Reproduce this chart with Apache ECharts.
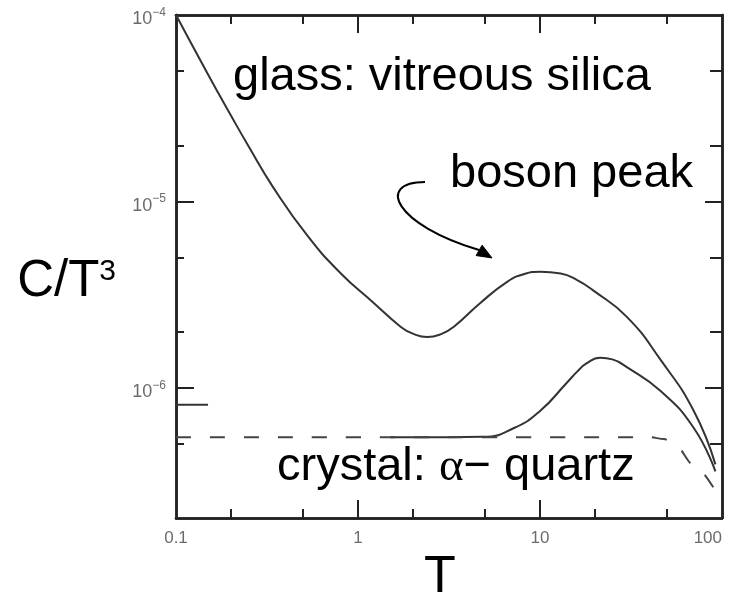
<!DOCTYPE html>
<html><head><meta charset="utf-8">
<script src="https://cdn.jsdelivr.net/npm/echarts@6/dist/echarts.min.js"></script>
<style>html,body{margin:0;padding:0;background:#fff}#c{width:730px;height:592px}</style>
</head><body><div id="c"></div>
<script>
// ---- data ----
const glassT = [0.1, 0.15, 0.2, 0.25, 0.34, 0.53, 0.8, 1.22, 1.72, 2.0, 2.4, 2.9, 3.35, 4.7, 6.6, 8.2, 10, 13, 16, 19.5, 30, 46, 70, 92];
const glassC = [1e-4, 4.8e-5, 2.9e-5, 1.98e-5, 1.2e-5, 6.5e-6, 4.13e-6, 2.85e-6, 2.12e-6, 1.95e-6, 1.87e-6, 1.95e-6, 2.12e-6, 2.85e-6, 3.7e-6, 4.08e-6, 4.19e-6, 4.1e-6, 3.78e-6, 3.34e-6, 2.40e-6, 1.41e-6, 7.5e-7, 3.88e-7];
const crystT = [1.5, 3, 4.9, 7.2, 10, 14, 16, 18, 21.4, 25, 30, 46, 70, 92];
const crystC = [5.43e-7, 5.43e-7, 5.45e-7, 6.08e-7, 7.5e-7, 1.06e-6, 1.22e-6, 1.35e-6, 1.45e-6, 1.42e-6, 1.29e-6, 9.6e-7, 6.08e-7, 3.56e-7];
const debyeT = [0.1, 40, 48, 55, 70, 92];
const debyeC = [5.43e-7, 5.43e-7, 5.3e-7, 4.98e-7, 3.84e-7, 2.8e-7];
const markT = [0.1, 0.15];
const markC = [8.1e-7, 8.1e-7];
const xMajorTicks = [1, 10];
const xMinorTicks = [0.2, 0.5, 2, 5, 20, 50];
const yMajorTicks = [1e-5, 1e-6];
const yMinorTicks = [5e-5, 2e-5, 5e-6, 2e-6, 5e-7];
const arrowTip = [5.45, 4.97e-6];
const xMin = 0.1, xMax = 100, yMin = 2e-7, yMax = 1e-4;

const toPairs = (a, b) => a.map((v, i) => [v, b[i]]);
const AX = '#222';
const LBL = '#6b6b6b';

function xAx(pos, ticks, len, withLabels, extra) {
  return Object.assign({
    type: 'log', logBase: 10, min: xMin, max: xMax, position: pos,
    axisLine: { show: true, onZero: false, lineStyle: { color: AX, width: 2.5 } },
    axisTick: { show: true, inside: true, length: len, customValues: ticks, lineStyle: { color: AX, width: 2 } },
    axisLabel: withLabels ? {
      show: true, margin: 12, color: LBL, fontSize: 17, fontFamily: 'Liberation Sans',
      alignMaxLabel: 'right',
      formatter: v => v >= 1 ? String(Math.round(v)) : String(v)
    } : { show: false },
    splitLine: { show: false }, minorTick: { show: false }, minorSplitLine: { show: false }
  }, extra || {});
}
function yAx(pos, ticks, len, withLabels) {
  return {
    type: 'log', logBase: 10, min: yMin, max: yMax, position: pos,
    axisLine: { show: true, onZero: false, lineStyle: { color: AX, width: 2.5 } },
    axisTick: { show: true, inside: true, length: len, customValues: ticks, lineStyle: { color: AX, width: 2 } },
    axisLabel: withLabels ? {
      show: true, margin: 10, showMinLabel: false, showMaxLabel: true,
      color: LBL, fontFamily: 'Liberation Sans', padding: [9, 0, 0, 0],
      formatter: v => { const e = Math.round(Math.log10(v)); return '{b|10}{s|\u2212' + Math.abs(e) + '}'; },
      rich: { b: { fontSize: 18, lineHeight: 26, color: LBL }, s: { fontSize: 12, lineHeight: 12, verticalAlign: 'top', color: LBL } }
    } : { show: false },
    splitLine: { show: false }, minorTick: { show: false }, minorSplitLine: { show: false }
  };
}

const chart = echarts.init(document.getElementById('c'), null, { renderer: 'canvas' });
const lineBase = { type: 'line', showSymbol: false, symbol: 'none', xAxisIndex: 0, yAxisIndex: 0, silent: true };
chart.setOption({
  animation: false,
  backgroundColor: '#fff',
  textStyle: { fontFamily: 'Liberation Sans' },
  grid: { left: 176, right: 8, top: 15, bottom: 74, containLabel: false, outerBoundsMode: 'none' },
  xAxis: [
    xAx('bottom', xMajorTicks, 18, true, {
      name: 'T', nameLocation: 'middle', nameGap: 28,
      nameTextStyle: { fontSize: 52, color: '#000', fontFamily: 'Liberation Sans', padding: [0, 18, 0, 0] }
    }),
    xAx('bottom', xMinorTicks, 9, false),
    xAx('top', xMajorTicks, 18, false),
    xAx('top', xMinorTicks, 9, false)
  ],
  yAxis: [
    Object.assign(yAx('left', yMajorTicks, 18, true), {
      name: 'C/T{s|3}', nameLocation: 'middle', nameRotate: 0, nameGap: 60,
      nameTextStyle: { fontSize: 51, color: '#000', fontFamily: 'Liberation Sans', padding: [31, 0, 0, 0],
        rich: { s: { fontSize: 30, verticalAlign: 'top', color: '#000', fontFamily: 'Liberation Sans' } } }
    }),
    yAx('left', yMinorTicks, 8, false),
    yAx('right', yMajorTicks, 17, false),
    yAx('right', yMinorTicks, 12, false)
  ],
  series: [
    Object.assign({}, lineBase, { name: 'glass', data: toPairs(glassT, glassC), smooth: 0.5,
      lineStyle: { color: '#333', width: 2 } }),
    Object.assign({}, lineBase, { name: 'crystal', data: toPairs(crystT, crystC), smooth: 0.5,
      lineStyle: { color: '#333', width: 2 } }),
    Object.assign({}, lineBase, { name: 'debye', data: toPairs(debyeT, debyeC), smooth: 0.3, smoothMonotone: 'x',
      lineStyle: { color: '#444', width: 2, type: [15, 19] } }),
    Object.assign({}, lineBase, { name: 'mark', data: toPairs(markT, markC),
      lineStyle: { color: '#333', width: 2 } })
  ]
});

const tip = chart.convertToPixel({ xAxisIndex: 0, yAxisIndex: 0 }, arrowTip);
const tx = tip[0], ty = tip[1];
chart.setOption({
  graphic: [
    { type: 'text', silent: true, style: { x: 233, y: 77.5, text: 'glass: vitreous silica', fontSize: 47, fontFamily: 'Liberation Sans', fill: '#000', verticalAlign: 'middle' } },
    { type: 'text', silent: true, style: { x: 450, y: 174.5, text: 'boson peak', fontSize: 47, fontFamily: 'Liberation Sans', fill: '#000', verticalAlign: 'middle' } },
    { type: 'text', silent: true, style: { x: 273, y: 467.5, text: 'crystal: {a|\u03b1}\u2212 quartz', fontSize: 47, fontFamily: 'Liberation Sans', fill: '#000', verticalAlign: 'middle',
      backgroundColor: '#fff', padding: [0, 4, 0, 4],
      rich: { a: { fontFamily: 'Liberation Serif', fontSize: 47, fill: '#000' } } } },
    { type: 'bezierCurve', silent: true,
      shape: { x1: tx - 67, y1: ty - 76, cpx1: tx - 117, cpy1: ty - 76, cpx2: tx - 97, cpy2: ty - 33, x2: tx - 13, y2: ty - 8 },
      style: { stroke: '#000', lineWidth: 2, fill: null } },
    { type: 'polygon', silent: true,
      shape: { points: [[tx, ty], [tx - 15.9, ty - 2.4], [tx - 9.9, ty - 12.8]] },
      style: { fill: '#000', stroke: '#000', lineWidth: 1 } }
  ]
});
</script></body></html>
